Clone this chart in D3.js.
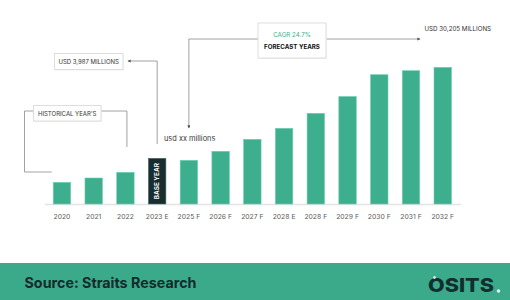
<!DOCTYPE html>
<html>
<head>
<meta charset="utf-8">
<script src="https://cdn.jsdelivr.net/npm/d3@7"></script>
<style>
  html, body { margin: 0; padding: 0; background: #fff; }
  svg { display: block; font-family: Inter, "Open Sans", sans-serif; }
</style>
</head>
<body>
<script>
// bar labels and relative heights
const years = ["2020", "2021", "2022", "2023 E", "2025 F", "2026 F", "2027 F",
               "2028 E", "2028 F", "2029 F", "2030 F", "2031 F", "2032 F"]
const values = [21.7, 26, 31.7, 45.7, 43.7, 52.7, 64.7, 75.7, 90.7, 107.5, 129.3, 133.3, 136.7]
const baseYear = "2023 E"

const width = 510, height = 300
const green = "#3daf8e", dark = "#172d30", lineGray = "#8a8a8a"

const svg = d3.select("body").append("svg")
    .attr("width", width)
    .attr("height", height)

const x = d3.scaleBand()
    .domain(years)
    .range([46.1, 458.6])
    .paddingInner(0.45)
    .paddingOuter(0.225)

const y = d3.scaleLinear()
    .domain([0, 140])
    .range([204, 64])

const cx = d => x(d) + x.bandwidth() / 2

// baseline
svg.append("line")
    .attr("x1", 45).attr("x2", 461)
    .attr("y1", y(0) + 0.5).attr("y2", y(0) + 0.5)
    .attr("stroke", "#e3e3e3")
    .attr("stroke-width", 1.5)

// bars
svg.append("g")
  .selectAll("rect")
  .data(years)
  .join("rect")
    .attr("x", d => x(d))
    .attr("width", x.bandwidth())
    .attr("y", (d, i) => y(values[i]))
    .attr("height", (d, i) => y(0) - y(values[i]))
    .attr("fill", d => d == baseYear ? dark : green)
    .attr("stroke", d => d == baseYear ? "#4b6a6c" : "#6fcfb2")
    .attr("stroke-width", 0.6)

// BASE YEAR label inside dark bar
const bi = years.indexOf(baseYear)
svg.append("text")
    .attr("transform", `translate(${cx(baseYear) + 2.3},${(y(values[bi]) + y(0)) / 2}) rotate(-90)`)
    .attr("text-anchor", "middle")
    .attr("fill", "#fff")
    .attr("font-weight", 700)
    .attr("font-size", 6.4)
    .text("BASE YEAR")

// x axis labels
svg.append("g")
  .selectAll("text")
  .data(years)
  .join("text")
    .attr("x", d => cx(d))
    .attr("y", 219)
    .attr("text-anchor", "middle")
    .attr("fill", "#5a5a5a")
    .attr("font-size", 6.8)
    .text(d => d)

// arrow marker
svg.append("defs").append("marker")
    .attr("id", "arr")
    .attr("viewBox", "0 0 6 6")
    .attr("refX", 5).attr("refY", 3)
    .attr("markerWidth", 4).attr("markerHeight", 4)
    .attr("orient", "auto")
  .append("path")
    .attr("d", "M0,0L6,3L0,6Z")
    .attr("fill", "#555")

const line = (pts, arrow) => svg.append("path")
    .attr("d", d3.line()(pts))
    .attr("fill", "none")
    .attr("stroke", lineGray)
    .attr("stroke-width", 0.8)
    .attr("marker-end", arrow ? "url(#arr)" : null)

function box(x0, y0, w, h) {
    svg.append("rect")
        .attr("x", x0 + 0.6).attr("y", y0 + 1)
        .attr("width", w).attr("height", h)
        .attr("fill", "#f1f1f1")
    return svg.append("rect")
        .attr("x", x0).attr("y", y0)
        .attr("width", w).attr("height", h)
        .attr("fill", "#fff")
        .attr("stroke", "#d6d6d6")
        .attr("stroke-width", 0.8)
}

// historical bracket
line([[33.5, 111], [24.5, 111], [24.5, 172], [x("2020") - 1.5, 172]])
line([[101, 111], [cx("2022") + 1.5, 111], [cx("2022") + 1.5, 147]])
box(33.5, 105.5, 67.5, 15.5)
svg.append("text")
    .attr("x", 67.2).attr("y", 116)
    .attr("text-anchor", "middle")
    .attr("fill", "#333")
    .attr("font-size", 6)
    .text("HISTORICAL YEAR'S")

// base year value
line([[cx(baseYear), 144], [cx(baseYear), 61], [128, 61]], true)
box(54.5, 53.5, 68.5, 16)
svg.append("text")
    .attr("x", 88.7).attr("y", 64)
    .attr("text-anchor", "middle")
    .attr("fill", "#333")
    .attr("font-size", 6)
    .text("USD 3,987 MILLIONS")

svg.append("text")
    .attr("x", 164).attr("y", 141)
    .attr("fill", "#3a3a3a")
    .attr("font-size", 7.4)
    .text("usd xx millions")

// forecast bracket
line([[258, 39], [cx("2025 F"), 39], [cx("2025 F"), 128]], true)
line([[326, 39], [420, 39]], true)
box(258, 23, 68, 35)
svg.append("text")
    .attr("x", 292).attr("y", 36.5)
    .attr("text-anchor", "middle")
    .attr("fill", "#3daf8e")
    .attr("font-size", 6.2)
    .text("CAGR 24.7%")
svg.append("text")
    .attr("x", 292).attr("y", 49)
    .attr("text-anchor", "middle")
    .attr("fill", "#111")
    .attr("font-weight", 700)
    .attr("font-size", 6.2)
    .text("FORECAST YEARS")

svg.append("text")
    .attr("x", 424.5).attr("y", 31.3)
    .attr("fill", "#333")
    .attr("font-size", 6.2)
    .text("USD 30,205 MILLIONS")

// footer
svg.append("rect")
    .attr("x", 0).attr("y", 263)
    .attr("width", width).attr("height", height - 263)
    .attr("fill", "#3aaa8a")
svg.append("text")
    .attr("x", 24.5).attr("y", 287.5)
    .attr("fill", "#142a2b")
    .attr("font-weight", 700)
    .attr("font-size", 14.5)
    .attr("textLength", 172)
    .attr("lengthAdjust", "spacingAndGlyphs")
    .text("Source: Straits Research")

svg.append("text")
    .attr("x", 428).attr("y", 291.5)
    .attr("fill", "#122e2e")
    .attr("font-weight", 800)
    .attr("font-size", 19)
    .attr("textLength", 66)
    .attr("lengthAdjust", "spacingAndGlyphs")
    .text("OSITS")
svg.append("circle").attr("cx", 498.5).attr("cy", 291).attr("r", 1.8).attr("fill", "#dff7f0")
svg.append("circle").attr("cx", 434.5).attr("cy", 277.5).attr("r", 1.4).attr("fill", "#cdeee5")
</script>
</body>
</html>
